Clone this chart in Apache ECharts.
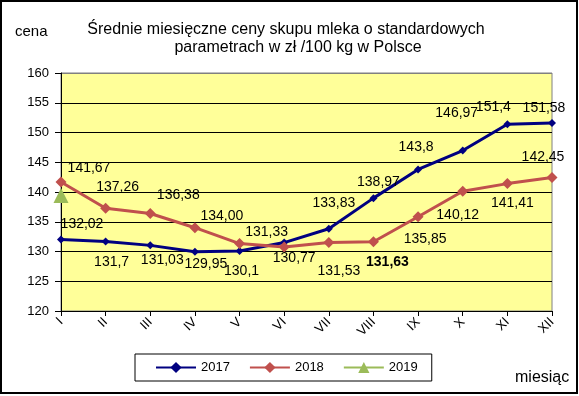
<!DOCTYPE html>
<html>
<head>
<meta charset="utf-8">
<script src="https://cdn.jsdelivr.net/npm/echarts@6/dist/echarts.min.js"></script>
<style>
html,body{margin:0;padding:0;background:#fff;}
#c{width:579px;height:396px;}
</style>
</head>
<body>
<div id="c"></div>
<script>
const months = ['I','II','III','IV','V','VI','VII','VIII','IX','X','XI','XII'];
const v2017 = [132.02,131.7,131.03,129.95,130.1,131.5,133.83,138.97,143.8,146.97,151.4,151.58];
const v2018 = [141.67,137.26,136.38,134.00,131.33,130.77,131.53,131.63,135.85,140.12,141.41,142.45];
const v2019 = [139.4];
const lbl2017 = ['132,02','131,7','131,03','129,95','130,1','','133,83','138,97','143,8','146,97','151,4','151,58'];
const lbl2018 = ['141,67','137,26','136,38','134,00','131,33','130,77','131,53','131,63','135,85','140,12','141,41','142,45'];
const yTicks = [120,125,130,135,140,145,150,155,160];

// label placement offsets (px) relative to each point
const off2017 = [[21,-15],[6,21],[12,15],[11,12],[2,20],[0,0],[5,-26],[5,-16],[-2,-22],[-6,-37],[-14,-17],[-8,-15]];
const off2018 = [[28,-14],[12,-21],[28,-18],[27,-12],[27,-11],[10,11],[10,29],[14,20],[7,22],[-5,24],[5,20],[-9,-20]];

const FONT = 'Arial, "Liberation Sans", sans-serif';

function mk(vals, lbls, offs, boldIdx) {
  return vals.map((v, i) => ({
    value: v,
    label: {
      show: lbls[i] !== '',
      formatter: lbls[i],
      position: 'inside',
      offset: offs[i],
      fontWeight: i === boldIdx ? 'bold' : 'normal'
    }
  }));
}

const chart = echarts.init(document.getElementById('c'), null, {renderer: 'canvas'});
const gridColors = yTicks.map((t, i) => i === yTicks.length - 1 ? '#808080' : '#000000');

chart.setOption({
  animation: false,
  backgroundColor: '#ffffff',
  textStyle: {fontFamily: FONT},
  grid: {left: 61, right: 27, top: 73, bottom: 85, show: true, backgroundColor: '#FFFF99', borderColor: '#808080', borderWidth: 1},
  xAxis: {
    type: 'category',
    data: months,
    boundaryGap: false,
    axisLine: {lineStyle: {color: '#000', width: 1}},
    axisTick: {show: true, alignWithLabel: true, length: 5, lineStyle: {color: '#000'}},
    axisLabel: {rotate: 45, margin: 9, color: '#000', fontSize: 13, fontFamily: FONT, interval: 0},
    splitLine: {show: false}
  },
  yAxis: {
    type: 'value',
    min: 120, max: 160, interval: 5,
    axisLine: {show: true, lineStyle: {color: '#000', width: 1}},
    axisTick: {show: true, length: 6, lineStyle: {color: '#000'}},
    axisLabel: {color: '#000', fontSize: 13, fontFamily: FONT, margin: 12},
    splitLine: {show: true, lineStyle: {color: gridColors, width: 1}}
  },
  legend: {
    left: 135, top: 354,
    padding: [7, 14, 7, 20],
    itemWidth: 40, itemHeight: 14, itemGap: 19,
    borderColor: '#000', borderWidth: 1,
    backgroundColor: '#fff',
    textStyle: {color: '#000', fontSize: 13, fontFamily: FONT},
    data: ['2017','2018','2019']
  },
  series: [
    {
      name: '2017', type: 'line', data: mk(v2017, lbl2017, off2017, -1),
      symbol: 'diamond', symbolSize: 8,
      itemStyle: {color: '#000080'},
      lineStyle: {color: '#000080', width: 3},
      label: {color: '#000', fontSize: 14, fontFamily: FONT},
      z: 3
    },
    {
      name: '2018', type: 'line', data: mk(v2018, lbl2018, off2018, 7),
      symbol: 'diamond', symbolSize: 11,
      itemStyle: {color: '#C0504D'},
      lineStyle: {color: '#C0504D', width: 3},
      label: {color: '#000', fontSize: 14, fontFamily: FONT},
      z: 4
    },
    {
      name: '2019', type: 'line', data: v2019,
      symbol: 'triangle', symbolSize: 15,
      itemStyle: {color: '#9BBB59'},
      lineStyle: {color: '#9BBB59', width: 3},
      z: 5
    }
  ],
  graphic: [
    {type: 'rect', shape: {x: 1, y: 1, width: 576, height: 392}, style: {fill: 'none', stroke: '#000', lineWidth: 2}, silent: true},
    {type: 'text', x: 286, y: 30, style: {text: 'Średnie miesięczne ceny skupu mleka o standardowych', font: '16px ' + FONT, fill: '#000', textAlign: 'center', textVerticalAlign: 'middle'}},
    {type: 'text', x: 298, y: 48, style: {text: 'parametrach w zł /100 kg w Polsce', font: '16px ' + FONT, fill: '#000', textAlign: 'center', textVerticalAlign: 'middle'}},
    {type: 'text', x: 15, y: 32, style: {text: 'cena', font: '15px ' + FONT, fill: '#000', textAlign: 'left', textVerticalAlign: 'middle'}},
    {type: 'text', x: 515, y: 378, style: {text: 'miesiąc', font: '16px ' + FONT, fill: '#000', textAlign: 'left', textVerticalAlign: 'middle'}}
  ]
});
</script>
</body>
</html>
